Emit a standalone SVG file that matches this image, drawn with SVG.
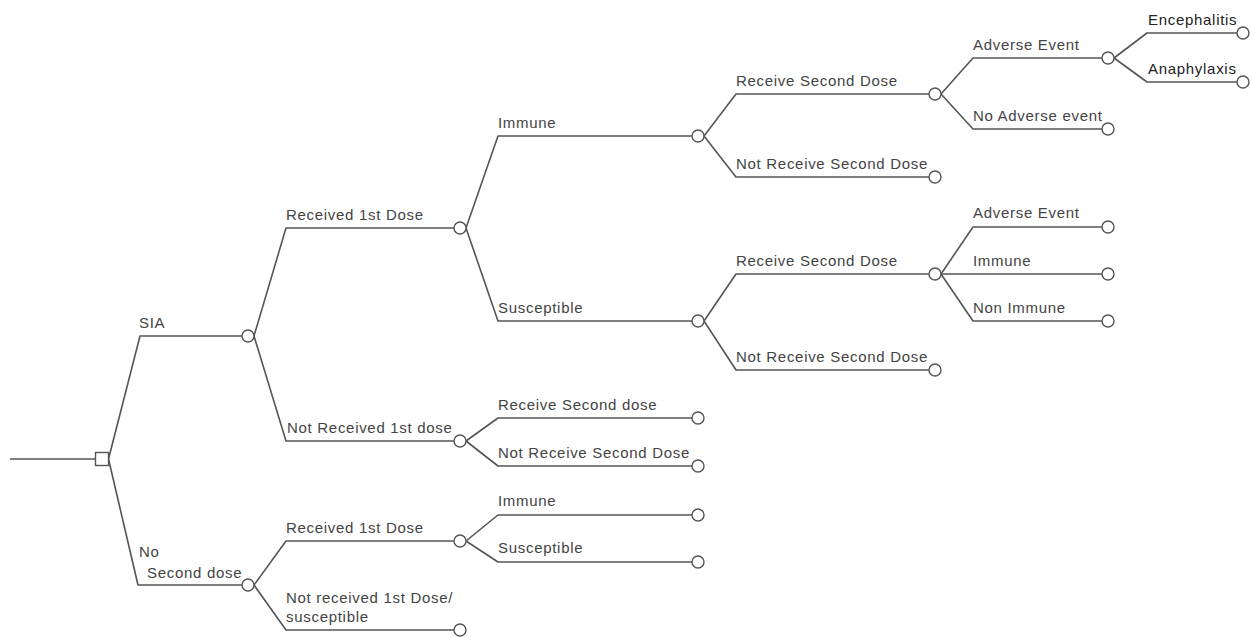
<svg xmlns="http://www.w3.org/2000/svg" width="1251" height="637" viewBox="0 0 1251 637">
<style>
.c{fill:none;stroke:#555;stroke-width:1.6;stroke-linejoin:round}
.n{fill:#fff;stroke:#555;stroke-width:1.4}
.t{font-family:"Liberation Sans",Arial,sans-serif;font-size:15px;letter-spacing:0.7px;fill:#444}
.b{fill:#222}
</style>
<rect width="1251" height="637" fill="#fff"/>
<g id="connectors">
<path class="c" d="M10,459 H95.5"/>
<path class="c" d="M108.5,459 L140,336 H242"/>
<path class="c" d="M108.5,459 L138,585 H242"/>
<path class="c" d="M254,336 L286,228 H454"/>
<path class="c" d="M254,336 L286,441 H454"/>
<path class="c" d="M254,585 L286,541 H454"/>
<path class="c" d="M254,585 L286,630 H454"/>
<path class="c" d="M466,228 L498,136 H692"/>
<path class="c" d="M466,228 L498,321 H692"/>
<path class="c" d="M466,441 L498,418 H692"/>
<path class="c" d="M466,441 L498,466 H692"/>
<path class="c" d="M466,541 L498,515 H692"/>
<path class="c" d="M466,541 L498,562 H692"/>
<path class="c" d="M704,136 L736,94 H929"/>
<path class="c" d="M704,136 L736,177 H929"/>
<path class="c" d="M704,321 L736,274 H929"/>
<path class="c" d="M704,321 L736,370 H929"/>
<path class="c" d="M941,94 L973,58 H1102"/>
<path class="c" d="M941,94 L973,129 H1102"/>
<path class="c" d="M941,274 L973,227 H1102"/>
<path class="c" d="M941,274 H1102"/>
<path class="c" d="M941,274 L973,321 H1102"/>
<path class="c" d="M1114,58 L1147,33 H1237"/>
<path class="c" d="M1114,58 L1147,82 H1237"/>
</g>
<g id="root"><rect class="n" x="95.5" y="452.5" width="13" height="13"/></g>
<g id="sia"><circle class="n" cx="248" cy="336" r="6"/><text class="t" x="139" y="328">SIA</text></g>
<g id="no-second-dose"><circle class="n" cx="248" cy="585" r="6"/><text class="t" x="139" y="557">No</text><text class="t" x="147" y="578">Second dose</text></g>
<g id="received-1st-dose"><circle class="n" cx="460" cy="228" r="6"/><text class="t" x="286" y="220">Received 1st Dose</text></g>
<g id="not-received-1st-dose"><circle class="n" cx="460" cy="441" r="6"/><text class="t" x="287" y="433">Not Received 1st dose</text></g>
<g id="received-1st-dose-b"><circle class="n" cx="460" cy="541" r="6"/><text class="t" x="286" y="533">Received 1st Dose</text></g>
<g id="not-received-susceptible"><circle class="n" cx="460" cy="630" r="6"/><text class="t" x="286" y="603">Not received 1st Dose/</text><text class="t" x="286" y="622">susceptible</text></g>
<g id="immune"><circle class="n" cx="698" cy="136" r="6"/><text class="t" x="498" y="128">Immune</text></g>
<g id="susceptible"><circle class="n" cx="698" cy="321" r="6"/><text class="t" x="498" y="313">Susceptible</text></g>
<g id="receive-second-dose-c"><circle class="n" cx="698" cy="418" r="6"/><text class="t" x="498" y="410">Receive Second dose</text></g>
<g id="not-receive-second-dose-c"><circle class="n" cx="698" cy="466" r="6"/><text class="t" x="498" y="458">Not Receive Second Dose</text></g>
<g id="immune-b"><circle class="n" cx="698" cy="515" r="6"/><text class="t" x="498" y="506">Immune</text></g>
<g id="susceptible-b"><circle class="n" cx="698" cy="562" r="6"/><text class="t" x="498" y="553">Susceptible</text></g>
<g id="receive-second-dose-a"><circle class="n" cx="935" cy="94" r="6"/><text class="t" x="736" y="86">Receive Second Dose</text></g>
<g id="not-receive-second-dose-a"><circle class="n" cx="935" cy="177" r="6"/><text class="t" x="736" y="169">Not Receive Second Dose</text></g>
<g id="receive-second-dose-b"><circle class="n" cx="935" cy="274" r="6"/><text class="t" x="736" y="266">Receive Second Dose</text></g>
<g id="not-receive-second-dose-b"><circle class="n" cx="935" cy="370" r="6"/><text class="t" x="736" y="362">Not Receive Second Dose</text></g>
<g id="adverse-event-a"><circle class="n" cx="1108" cy="58" r="6"/><text class="t" x="973" y="50">Adverse Event</text></g>
<g id="no-adverse-event"><circle class="n" cx="1108" cy="129" r="6"/><text class="t" x="973" y="121">No Adverse event</text></g>
<g id="adverse-event-b"><circle class="n" cx="1108" cy="227" r="6"/><text class="t" x="973" y="218">Adverse Event</text></g>
<g id="immune-c"><circle class="n" cx="1108" cy="274" r="6"/><text class="t" x="973" y="266">Immune</text></g>
<g id="non-immune"><circle class="n" cx="1108" cy="321" r="6"/><text class="t" x="973" y="313">Non Immune</text></g>
<g id="encephalitis"><circle class="n" cx="1243" cy="33" r="6"/><text class="t b" x="1148" y="25">Encephalitis</text></g>
<g id="anaphylaxis"><circle class="n" cx="1243" cy="82" r="6"/><text class="t b" x="1148" y="74">Anaphylaxis</text></g>
</svg>
